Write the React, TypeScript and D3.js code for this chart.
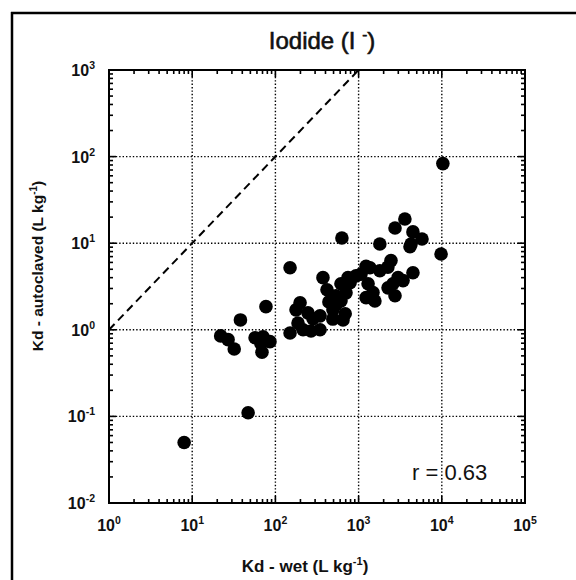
import React from "react";
import * as d3 from "d3";

// Kd - wet (L/kg) and Kd - autoclaved (L/kg), paired by index
const kdWet = [
  10300, 9800, 8.0, 47, 22, 27, 32, 38, 77, 57, 69, 86, 71, 67, 150, 630, 150, 187, 215, 177,
  198, 344, 344, 246, 268, 373, 417, 535, 492, 650, 706, 790, 930, 440, 283, 614, 614, 746, 1070,
  1370, 1800, 4270, 2450, 4500, 2980, 1300, 2260, 1410, 2740, 3600, 2740, 4500, 5780, 4150, 1230,
  1800, 2250, 1490, 1230, 2590, 3420, 1570, 690, 535, 490,
];
const kdAutoclaved = [
  83, 7.5, 0.05, 0.11, 0.85, 0.77, 0.6, 1.3, 1.85, 0.81, 0.55, 0.73, 0.83, 0.69, 5.2, 11.5, 0.92,
  1.2, 1.0, 1.7, 2.05, 1.45, 1.0, 1.57, 0.97, 4.0, 2.9, 2.47, 1.7, 1.3, 2.67, 3.5, 4.2, 2.1, 1.34,
  2.16, 3.4, 4.0, 4.4, 5.2, 9.8, 9.8, 6.3, 4.55, 4.0, 3.4, 3.05, 2.35, 2.47, 19, 15, 13.5, 11.2,
  9.1, 5.4, 4.8, 5.3, 2.7, 2.35, 3.4, 3.7, 2.15, 1.53, 1.95, 1.33,
];
const xTickExponents = [0, 1, 2, 3, 4, 5];
const yTickExponents = [-2, -1, 0, 1, 2, 3];
const oneToOne = [1, 1000];
const titleMain = "Iodide (I ";
const titleSup = "-";
const xLabelMain = "Kd - wet (L kg";
const yLabelMain = "Kd - autoclaved (L kg";
const unitSup = "-1";
const rText = "r = 0.63";

const W = 576;
const H = 580;
const L = 109, R = 525, T = 70, B = 503;
const FONT = "'Liberation Sans', Arial, Helvetica, sans-serif";

export default function App() {
  const x = d3.scaleLog().domain([1, 1e5]).range([L, R]);
  const y = d3.scaleLog().domain([1e-2, 1e3]).range([B, T]);

  const xMinor: { v: number; major: boolean }[] = [];
  for (let k = 0; k < 5; k++)
    for (let m = 1; m <= 9; m++) xMinor.push({ v: m * Math.pow(10, k), major: m === 1 });
  const yMinor: { v: number; major: boolean }[] = [];
  for (let k = -2; k < 3; k++)
    for (let m = 1; m <= 9; m++) yMinor.push({ v: m * Math.pow(10, k), major: m === 1 });

  const lineGen = d3
    .line<number>()
    .x((d) => x(d))
    .y((d) => y(d));

  return (
    <svg
      width={W}
      height={H}
      style={{ position: "absolute", left: 0, top: 0, background: "#fff" }}
      fontFamily={FONT}
    >
      <rect x={0} y={0} width={W} height={H} fill="#fff" />
      {/* outer frame (top & left) */}
      <line x1={11} y1={13} x2={W} y2={13} stroke="#000" strokeWidth={2.5} />
      <line x1={12} y1={12} x2={12} y2={H} stroke="#000" strokeWidth={2.5} />

      {/* title */}
      <text x={322} y={49} textAnchor="middle" fontSize={24} fill="#111"
        stroke="#111" strokeWidth={0.6}>
        {titleMain}
        <tspan dy={-9} fontSize={15}>{titleSup}</tspan>
        <tspan dy={9}>)</tspan>
      </text>

      {/* grid */}
      {xTickExponents.slice(1, -1).map((e) => (
        <line key={"gx" + e} x1={x(Math.pow(10, e))} x2={x(Math.pow(10, e))} y1={T} y2={B}
          stroke="#000" strokeWidth={1.4} strokeDasharray="1.4,2" />
      ))}
      {yTickExponents.slice(1, -1).map((e) => (
        <line key={"gy" + e} y1={y(Math.pow(10, e))} y2={y(Math.pow(10, e))} x1={L} x2={R}
          stroke="#000" strokeWidth={1.4} strokeDasharray="1.4,2" />
      ))}

      {/* ticks */}
      {xMinor.map((t, i) => {
        const len = t.major ? 7 : 4;
        const px = x(t.v);
        return (
          <g key={"tx" + i}>
            <line x1={px} x2={px} y1={B} y2={B - len} stroke="#000" strokeWidth={1.6} />
            <line x1={px} x2={px} y1={T} y2={T + len} stroke="#000" strokeWidth={1.6} />
          </g>
        );
      })}
      {yMinor.map((t, i) => {
        const len = t.major ? 7 : 4;
        const py = y(t.v);
        return (
          <g key={"ty" + i}>
            <line y1={py} y2={py} x1={L} x2={L + len} stroke="#000" strokeWidth={1.6} />
            <line y1={py} y2={py} x1={R} x2={R - len} stroke="#000" strokeWidth={1.6} />
          </g>
        );
      })}

      {/* frame */}
      <rect x={L} y={T} width={R - L} height={B - T} fill="none" stroke="#000" strokeWidth={2} />

      {/* 1:1 line */}
      <path d={lineGen(oneToOne) || ""} fill="none" stroke="#000" strokeWidth={2}
        strokeDasharray="8,5" />

      {/* points */}
      {kdWet.map((v, i) => (
        <circle key={"p" + i} cx={x(v)} cy={y(kdAutoclaved[i])} r={6.8} fill="#000" />
      ))}

      {/* x tick labels */}
      {xTickExponents.map((e) => (
        <text key={"lx" + e} x={x(Math.pow(10, e))} y={531} textAnchor="middle"
          fontSize={16} fontWeight="bold" fill="#111">
          10
          <tspan dy={-7} fontSize={10.5}>{String(e)}</tspan>
        </text>
      ))}
      {/* y tick labels */}
      {yTickExponents.map((e) => (
        <text key={"ly" + e} x={95} y={y(Math.pow(10, e)) + 6} textAnchor="end"
          fontSize={16} fontWeight="bold" fill="#111">
          10
          <tspan dy={-7} fontSize={10.5}>{String(e)}</tspan>
        </text>
      ))}

      {/* axis labels */}
      <text x={305} y={572} textAnchor="middle" fontSize={17} fontWeight="bold" fill="#111">
        {xLabelMain}
        <tspan dy={-7} fontSize={11}>{unitSup}</tspan>
        <tspan dy={7}>)</tspan>
      </text>
      <text transform="translate(43,266) rotate(-90)" textAnchor="middle" fontSize={15.5}
        fontWeight="bold" fill="#111">
        {yLabelMain}
        <tspan dy={-6} fontSize={10}>{unitSup}</tspan>
        <tspan dy={6}>)</tspan>
      </text>

      {/* correlation */}
      <text x={412} y={480} fontSize={22} fill="#111">{rText}</text>
    </svg>
  );
}
